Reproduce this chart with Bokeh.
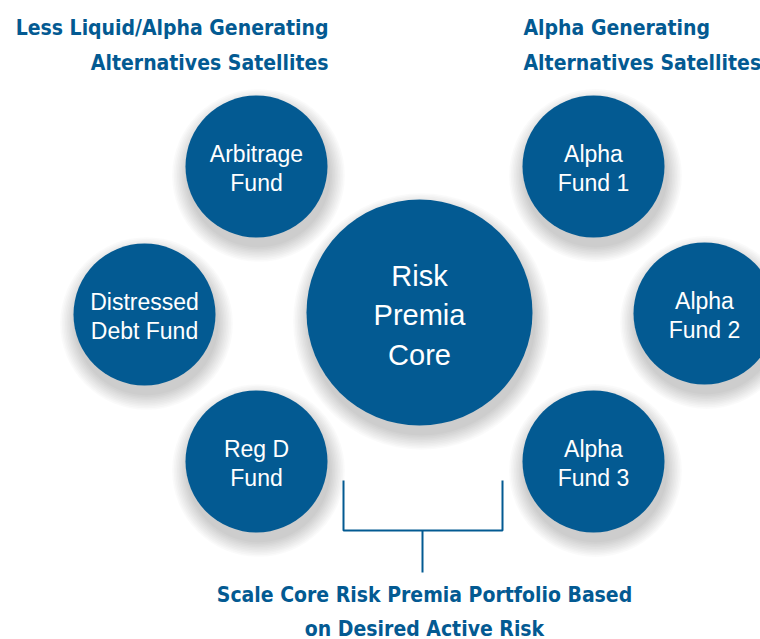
from bokeh.plotting import figure
from bokeh.models import Range1d
from bokeh.core.properties import value
from bokeh.embed import file_html
from bokeh.resources import INLINE

# ---- content ----
core_label = ["Risk", "Premia", "Core"]
satellite_labels = [
    ["Arbitrage", "Fund"],
    ["Distressed", "Debt Fund"],
    ["Reg D", "Fund"],
    ["Alpha", "Fund 1"],
    ["Alpha", "Fund 2"],
    ["Alpha", "Fund 3"],
]
left_header = ["Less Liquid/Alpha Generating", "Alternatives Satellites"]
right_header = ["Alpha Generating", "Alternatives Satellites"]
bottom_caption = ["Scale Core Risk Premia Portfolio Based", "on Desired Active Risk"]

# ---- layout (pixel space of the page) ----
core_pos = (419, 312)
core_r = 113
sat_pos = [(256, 166), (144, 314), (256, 461), (593, 166), (704, 313), (593, 461)]
sat_r = 71

BLUE = "#035A92"
W, H = 760, 639

p = figure(width=W, height=H, output_backend="svg", toolbar_location=None,
           x_range=Range1d(0, W), y_range=Range1d(H, 0),
           min_border=0, outline_line_color=None)
p.axis.visible = False
p.grid.visible = False
p.background_fill_color = "white"
p.border_fill_color = "white"

# soft drop shadows
all_pos = [core_pos] + sat_pos
all_r = [core_r] + [sat_r] * len(sat_pos)
for k in range(10):
    p.circle(x=[c[0] + 2 for c in all_pos], y=[c[1] + 9 for c in all_pos],
             radius=[r + 1 + k * 1.6 for r in all_r],
             fill_color="black", fill_alpha=0.018, line_color=None)

# circles
p.circle(x=[c[0] for c in all_pos], y=[c[1] for c in all_pos], radius=all_r,
         fill_color=BLUE, line_color=None)

# circle labels
font_reg = value("Liberation Sans")
for lines, (cx, cy) in zip(satellite_labels, sat_pos):
    for i, t in enumerate(lines):
        p.text(x=[cx], y=[cy - 13 + i * 29], text=[t],
               text_font=font_reg, text_font_size="23px", text_color="white",
               text_align="center", text_baseline="middle")
for i, t in enumerate(core_label):
    p.text(x=[core_pos[0]], y=[core_pos[1] - 37 + i * 39.5], text=[t],
           text_font=font_reg, text_font_size="29px", text_color="white",
           text_align="center", text_baseline="middle")

# headers
font_hdr = value("DejaVu Sans Condensed")
HDR_SIZE = "21px"
for i, t in enumerate(left_header):
    p.text(x=[328], y=[27 + i * 35], text=[t], text_font=font_hdr,
           text_font_style="bold", text_font_size=HDR_SIZE, text_color=BLUE,
           text_align="right", text_baseline="middle")
for i, t in enumerate(right_header):
    p.text(x=[523], y=[27 + i * 35], text=[t], text_font=font_hdr,
           text_font_style="bold", text_font_size=HDR_SIZE, text_color=BLUE,
           text_align="left", text_baseline="middle")
for i, t in enumerate(bottom_caption):
    p.text(x=[424], y=[594 + i * 34], text=[t], text_font=font_hdr,
           text_font_style="bold", text_font_size=HDR_SIZE, text_color=BLUE,
           text_align="center", text_baseline="middle")

# bracket
p.line(x=[343, 343, 502, 502], y=[480, 530, 530, 480], line_color=BLUE, line_width=2)
p.line(x=[422, 422], y=[530, 572], line_color=BLUE, line_width=2)

open("out.html", "w").write(file_html(p, INLINE))
